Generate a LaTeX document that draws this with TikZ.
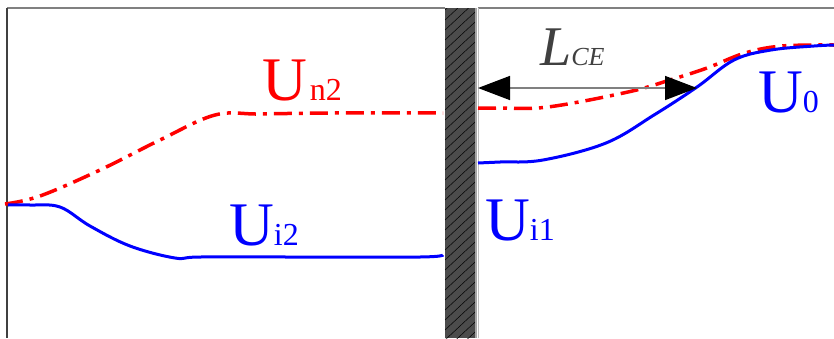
\documentclass[tikz,border=0pt]{standalone}
\usepackage{fontspec}
\setmainfont{Liberation Serif}
\usetikzlibrary{arrows.meta}
\newcommand{\sublbl}[1]{{\fontsize{32}{32}\selectfont #1}}

\begin{document}
\begin{tikzpicture}[x=1pt,y=-1pt,
 frame/.style={draw=gray,line width=1.5pt},
 ucurve/.style={draw=blue,line width=3pt,line join=round},
 ncurve/.style={draw=red,line width=3.5pt,dash pattern=on 18pt off 7pt on 4pt off 7pt},
 lbl/.style={inner sep=0pt,anchor=base west,font=\fontsize{62}{62}\selectfont},
 bigtip/.tip={Triangle[length=32pt,width=24pt,color=black]}]
\useasboundingbox (0,0) rectangle (834,338);
% frames of the two regions
\draw[frame] (7,8) -- (445,8);
\draw[frame] (478,8) -- (834,8);
\draw[draw=black!75,line width=1.2pt] (7,8) -- (7,338);
% wall
\fill[black!70] (445,8) rectangle (475,338);
\begin{scope}
\clip (445,8) rectangle (475,338);
\foreach \y in {0,10,...,370}
  \draw[black,line width=0.5pt] (445,\y) -- ++(30,-28);
\end{scope}
\fill[gray!70] (475,8) rectangle (477,338);
\draw[gray!50,line width=0.8pt] (478,8) -- (478,338);
% left region
\draw[ncurve] plot[smooth,tension=0.6] coordinates {(5,204) (40,196) (100,170) (160,140) (215,115) (260,114) (330,113) (443,113)};
\draw[ucurve] plot[smooth,tension=0.6] coordinates {(8,205) (30,205) (60,207) (90,226) (130,246) (175,258) (200,257) (300,257) (420,257) (443,255)};
% right region
\draw[ncurve] plot[smooth,tension=0.6] coordinates {(478,108) (500,108) (548,107) (628,92) (670,80) (707,68) (745,53) (782,46) (834,45)};
\draw[ucurve] plot[smooth,tension=0.6] coordinates {(478,163) (500,162) (543,160) (606,143) (654,115) (697,87) (734,60) (771,50) (814,46) (834,45)};
% distance L_CE
\coordinate (wallR) at (478,88);
\coordinate (ceEnd) at (697,88);
\draw[gray,line width=1.5pt,bigtip-bigtip] (wallR) -- (ceEnd);
\node[lbl,text=black!75] (lce) at (540,65) {\fontsize{56}{56}\selectfont\itshape L\fontsize{26}{26}\selectfont CE};
% labels
\node[lbl,text=red] (un2) at (262,100) {U\kern3pt\sublbl{n2}};
\node[lbl,text=blue] (ui2) at (229,245) {U\sublbl{i2}};
\node[lbl,text=blue] (ui1) at (485,240) {U\sublbl{i1}};
\node[lbl,text=blue] (u0) at (758,112) {U\sublbl{0}};
\end{tikzpicture}
\end{document}
